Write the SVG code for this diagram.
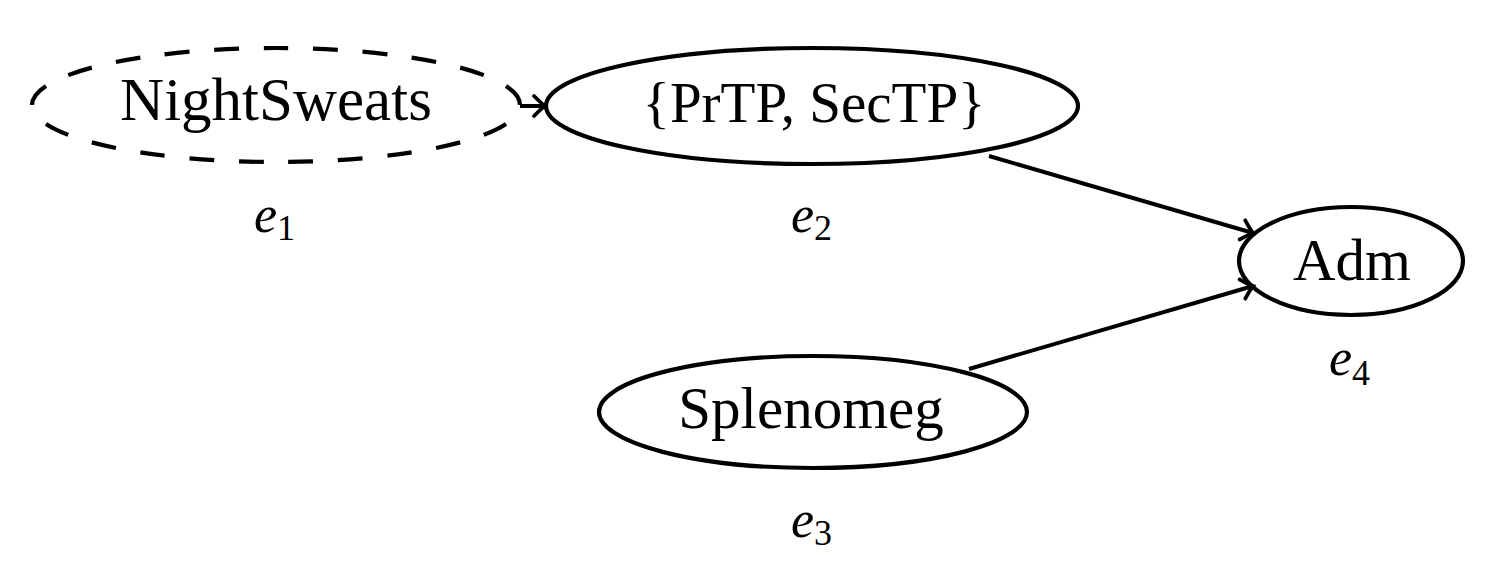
<svg xmlns="http://www.w3.org/2000/svg" width="1493" height="573" viewBox="0 0 1493 573">
<style>
.node{fill:none;stroke:#000;stroke-width:4.2}
.dashed{stroke-dasharray:25 25;stroke-dashoffset:25}
.lbl{font-family:"Liberation Serif",serif;font-size:59px;fill:#000;text-anchor:middle}
.e{font-family:"Liberation Serif",serif;font-size:52px;font-style:italic;fill:#000}
.sub{font-size:36px;font-style:normal}
.edge{fill:none;stroke:#000;stroke-width:4;marker-end:url(#arr)}
</style>
<defs>
<marker id="arr" markerUnits="userSpaceOnUse" markerWidth="30" markerHeight="30" viewBox="-15 -15 30 30" refX="0" refY="0" orient="auto" overflow="visible">
<path d="M-11,-10 Q-3,-2 0,0 Q-3,2 -11,10" fill="none" stroke="#000" stroke-width="3.8" stroke-linecap="round"/>
</marker>
</defs>
<g id="connectors">
<path class="edge" d="M520,106 L545,106"/>
<path class="edge" d="M989,156 L1253,233"/>
<path class="edge" d="M969,369 L1253,286"/>
</g>
<g id="node-e1">
<ellipse class="node dashed" cx="276" cy="105" rx="244" ry="57" pathLength="1050"/>
<text class="lbl" x="276" y="120" style="font-size:61px">NightSweats</text>
<text class="e" x="254" y="232">e<tspan class="sub" dy="8">1</tspan></text>
</g>
<g id="node-e2">
<ellipse class="node" cx="812" cy="106" rx="266" ry="58"/>
<text class="lbl" x="814" y="122" style="font-size:57px">{PrTP, SecTP}</text>
<text class="e" x="791" y="232">e<tspan class="sub" dy="8">2</tspan></text>
</g>
<g id="node-e3">
<ellipse class="node" cx="813" cy="412" rx="214" ry="56"/>
<text class="lbl" x="811" y="428">Splenomeg</text>
<text class="e" x="791" y="537">e<tspan class="sub" dy="8">3</tspan></text>
</g>
<g id="node-e4">
<ellipse class="node" cx="1351" cy="261" rx="112" ry="54"/>
<text class="lbl" x="1352" y="280">Adm</text>
<text class="e" x="1329" y="375">e<tspan class="sub" dy="10">4</tspan></text>
</g>
</svg>
